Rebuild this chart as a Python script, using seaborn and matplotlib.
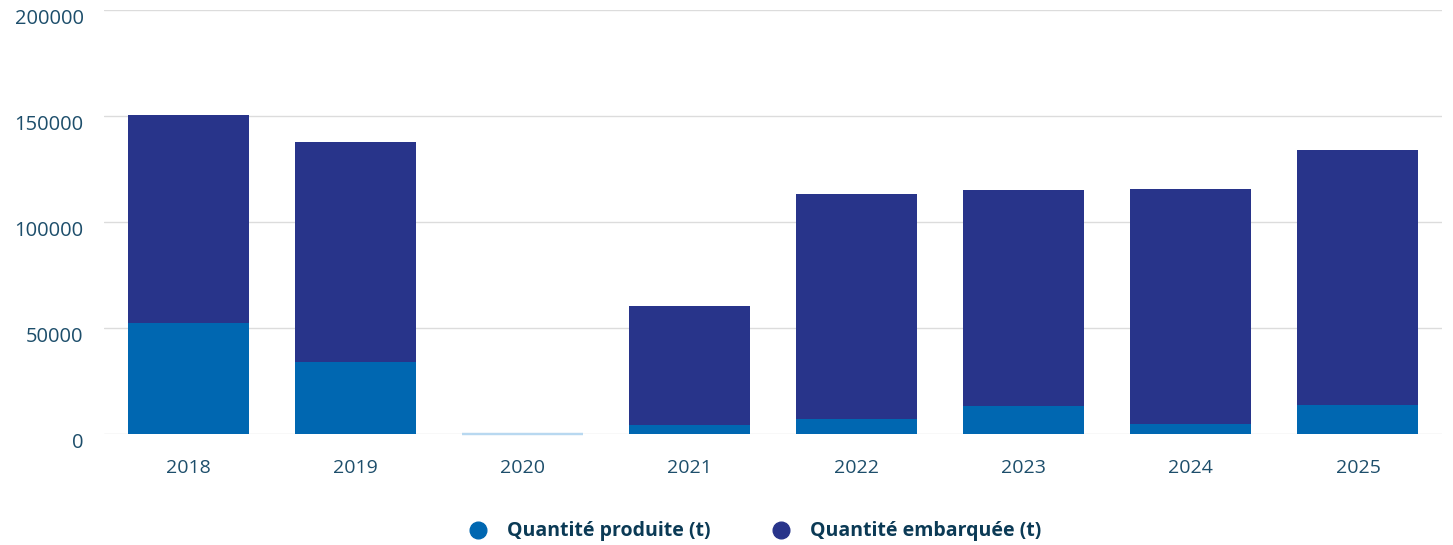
import numpy as np
import pandas as pd
import seaborn as sns
import matplotlib.pyplot as plt
import matplotlib.transforms as mtransforms
from matplotlib.lines import Line2D

# ---------------- DATA ----------------
years = ["2018", "2019", "2020", "2021", "2022", "2023", "2024", "2025"]
produced = [52400, 34000, 0, 4100, 7100, 13200, 4700, 13700]
embarked = [98100, 103700, 0, 56300, 106100, 101900, 110900, 120300]
series_names = ["Quantité produite (t)", "Quantité embarquée (t)"]
y_ticks = [0, 50000, 100000, 150000, 200000]

c_prod = "#0067b1"
c_emb = "#28348a"
c_text = "#1d4e6b"

df = pd.DataFrame({"year": years, "produced": produced, "embarked": embarked})
df["total"] = df["produced"] + df["embarked"]

# ---------------- PLOT ----------------
sns.set_style("white")
plt.rcParams["font.family"] = ["Open Sans", "DejaVu Sans"]

fig = plt.figure(figsize=(14.53, 5.45), dpi=100)
ax = fig.add_axes([0.0719, 0.2037, 0.9202, 0.778])

sns.barplot(data=df, x="year", y="total", color=c_emb, width=0.724,
            saturation=1, ax=ax, zorder=3)
sns.barplot(data=df, x="year", y="produced", color=c_prod, width=0.724,
            saturation=1, ax=ax, zorder=3)

# zero-height bar (2020) shows as a pale line
for p in ax.patches:
    p.set_linewidth(0)
    if p.get_height() == 0:
        p.set_edgecolor("#b8d8f0")
        p.set_linewidth(1.6)
        p.set_clip_on(False)

ax.set_ylim(0, 200000)
ax.set_xlim(-0.5, len(years) - 0.5)
ax.set_yticks(y_ticks)
ax.set_yticklabels([str(v) for v in y_ticks])
ax.yaxis.grid(True, color="#dcdcdc", linewidth=1, zorder=0)
ax.set_axisbelow(True)
ax.set_xlabel("")
ax.set_ylabel("")
sns.despine(ax=ax, left=True, bottom=True)
ax.tick_params(axis="y", length=0, pad=15, labelsize=14.5, labelcolor=c_text)
ax.tick_params(axis="x", length=0, pad=18, labelsize=14, labelcolor=c_text)

# y labels sit a little below their grid lines
offset = mtransforms.ScaledTranslation(0, -7 / 100, fig.dpi_scale_trans)
for lab in ax.get_yticklabels():
    lab.set_transform(lab.get_transform() + offset)

handles = [Line2D([0], [0], marker="o", linestyle="", markersize=12,
                  markerfacecolor=c, markeredgecolor=c) for c in (c_prod, c_emb)]
leg = fig.legend(handles, series_names, loc="center", bbox_to_anchor=(0.516, 0.025),
                 ncol=2, frameon=False, handletextpad=0.5, columnspacing=2.6,
                 prop={"size": 14, "weight": "bold"})
for t in leg.get_texts():
    t.set_color("#0b3a55")

fig.savefig("out.png", dpi=100)
